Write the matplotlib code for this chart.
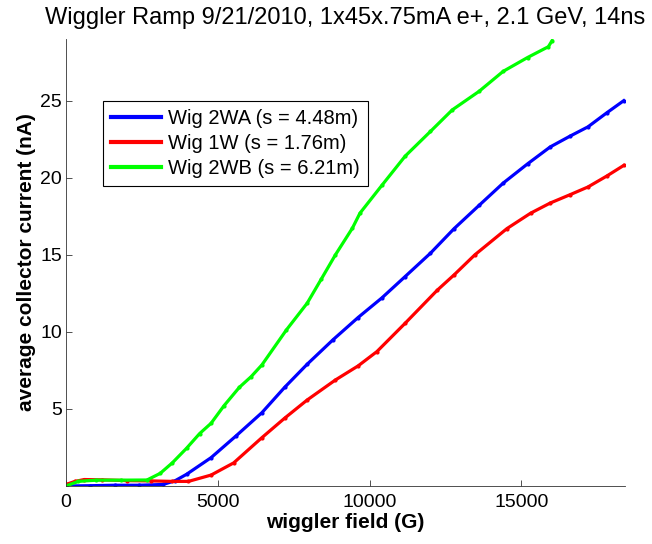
import numpy as np
import matplotlib
matplotlib.use('Agg')
import matplotlib.pyplot as plt

plt.rcParams['font.family'] = ['Liberation Sans', 'DejaVu Sans']

# wiggler field (G) and collector current (nA)
field_2wa = [0, 800, 1600, 2400, 3200, 3600, 3971, 4778, 5600, 6453, 7200, 7942,
             8800, 9618, 10400, 11169, 12000, 12782, 13600, 14396, 15200, 15947,
             16600, 17188, 17800, 18367]
cur_2wa = [0.0, 0.02, 0.05, 0.05, 0.1, 0.35, 0.76, 1.84, 3.25, 4.76, 6.4, 7.9,
           9.5, 10.93, 12.2, 13.59, 15.1, 16.7, 18.2, 19.65, 20.9, 22.0,
           22.7, 23.3, 24.2, 25.0]

field_1w = [0, 300, 600, 1200, 2000, 2800, 3500, 4034, 4778, 5522, 6453, 7200,
            7942, 8873, 9618, 10238, 11169, 12224, 12782, 13465, 14520, 15300,
            15947, 16600, 17188, 17800, 18367]
cur_1w = [0.1, 0.3, 0.42, 0.4, 0.35, 0.33, 0.3, 0.3, 0.71, 1.5, 3.14, 4.4,
          5.58, 6.88, 7.79, 8.72, 10.56, 12.7, 13.7, 15.0, 16.7, 17.7,
          18.36, 18.9, 19.4, 20.1, 20.8]

field_2wb = [0, 400, 1000, 1800, 2668, 3102, 3500, 3971, 4400, 4778, 5200, 5708,
             6100, 6453, 7260, 7942, 8400, 8873, 9432, 9680, 10400, 11169, 12000,
             12720, 13600, 14396, 15200, 15885, 16009]
cur_2wb = [0.0, 0.3, 0.38, 0.38, 0.39, 0.82, 1.5, 2.45, 3.4, 4.07, 5.2, 6.4,
           7.1, 7.86, 10.13, 11.86, 13.4, 15.0, 16.73, 17.7, 19.5, 21.4, 23.0,
           24.4, 25.6, 26.9, 27.8, 28.5, 28.9]

labels = ['Wig 2WA (s = 4.48m)', 'Wig 1W (s = 1.76m)', 'Wig 2WB (s = 6.21m)']

fig = plt.figure(figsize=(6.52, 5.44), dpi=100)
ax = fig.add_axes([0.1012, 0.1066, 0.857, 0.8217])

ax.plot(field_2wa, cur_2wa, '.-', color='#0000ff', lw=2.3, ms=4, label=labels[0])
ax.plot(field_1w, cur_1w, '.-', color='#ff0000', lw=2.3, ms=4, label=labels[1])
ax.plot(field_2wb, cur_2wb, '.-', color='#00ff00', lw=2.3, ms=4, label=labels[2])

ax.set_xlim(0, 18400)
ax.set_ylim(0, 29)
ax.set_xticks([0, 5000, 10000, 15000])
ax.set_yticks([5, 10, 15, 20, 25])
ax.tick_params(direction='in', length=4, labelsize=14, width=0.6, colors='#333333',
               labelcolor='black')
ax.tick_params(axis='x', pad=6)
ax.tick_params(axis='y', pad=3)
for s in ['top', 'right']:
    ax.spines[s].set_visible(False)
for s in ['left', 'bottom']:
    ax.spines[s].set_linewidth(0.6)
    ax.spines[s].set_color('#333333')

ax.set_xlabel('wiggler field (G)', fontsize=15, fontweight='bold', labelpad=1)
ax.set_ylabel('average collector current (nA)', fontsize=15, fontweight='bold', labelpad=3)
ax.set_title('Wiggler Ramp 9/21/2010, 1x45x.75mA e+, 2.1 GeV, 14ns', fontsize=17, pad=11)

leg = ax.legend(loc='upper left', bbox_to_anchor=(0.066, 0.862), fontsize=14.5,
                fancybox=False, framealpha=1, edgecolor='black', handlelength=2.5,
                borderpad=0.4, labelspacing=0.3, handletextpad=0.35, borderaxespad=0)
leg.get_frame().set_linewidth(0.8)
for h in leg.get_lines():
    h.set_marker('')
    h.set_linewidth(3)

fig.savefig('out.png', dpi=100)
